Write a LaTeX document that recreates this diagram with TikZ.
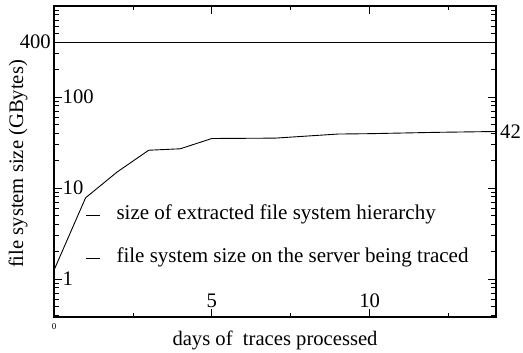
\documentclass[tikz,border=0pt]{standalone}
\usepackage{fontspec}
\setmainfont{Liberation Serif}
\usetikzlibrary{positioning}

\begin{document}
\begin{tikzpicture}[x=1bp, y=1bp, font=\fontsize{20.7}{24}\selectfont,
	frame/.style={line width=1.6bp},
	tick/.style={line width=0.8bp},
	curve/.style={line width=0.9bp},
	lbl/.style={inner sep=0pt},
	keytext/.style={anchor=base west, font=\fontsize{21.1}{24}\selectfont}]
	\useasboundingbox (0,0) rectangle (523,352);
	% data area: x in days, y in log10(GBytes)
	\begin{scope}[shift={(54,73)}, x=31.57bp, y=91bp]
		\coordinate (ll) at (0,-0.418);
		\coordinate (lr) at (14,-0.418);
		\coordinate (ul) at (0,3);
		\coordinate (ur) at (14,3);
		% minor ticks on the log axes
		\foreach \k in {4,...,9}
			\draw[tick] (0,{log10(\k)-1}) -- ++(5bp,0bp) (14,{log10(\k)-1}) -- ++(-5bp,0bp);
		\foreach \d in {0,1,2}
			\foreach \k in {2,...,9}
				\draw[tick] (0,{\d+log10(\k)}) -- ++(5bp,0bp) (14,{\d+log10(\k)}) -- ++(-5bp,0bp);
		\foreach \d in {0,1,2}
			\draw[tick] (0,\d) coordinate (t\d) -- ++(8bp,0bp) (14,\d) -- ++(-8bp,0bp);
		% day ticks
		\foreach \x in {2.5,7.5,12.5}
			\draw[tick] (\x,-0.418) -- ++(0bp,4bp) (\x,3) -- ++(0bp,-4bp);
		\foreach \x in {5,10}
			\draw[tick] (\x,-0.418) coordinate (x\x) -- ++(0bp,8bp) (\x,3) -- ++(0bp,-8bp);
		% server size
		\coordinate (s0) at (0,{log10(400)});
		\coordinate (s1) at (14,{log10(400)});
		\draw[line width=1.3bp] (s0) -- (s1);
		% extracted hierarchy
		\draw[curve] plot coordinates {(0,0.097) (1,0.892) (2,1.176) (3,1.415) (4,1.431)
			(5,1.544) (7,1.548) (9,1.593) (10,1.597) (12,1.611) (14,1.621)};
		\coordinate (e42) at (14,1.621);
		\draw[frame] (ll) rectangle (ur);
	\end{scope}

	\node[lbl, right=8.5bp of t2] (l100) {100};
	\node[lbl, right=8.5bp of t1] (l10) {10};
	\node[lbl, right=8.5bp of t0] (l1) {1};
	\node[lbl, left=3bp of s0] (l400) {400};
	\node[lbl, right=4bp of e42] (l42) {42};
	\node[lbl, above=9bp of x5] (l5) {5};
	\node[lbl, above=9bp of x10] (l10d) {10};
	\node[lbl, below=6bp of ll, font=\fontsize{9}{10}\selectfont] (l0) {0};

	\node[anchor=base] (xlab) at (275,7) {days of~ traces processed};
	\node[anchor=base, rotate=90] (ylab) at (23,188) {file system size (GBytes)};

	% legend
	\coordinate (k1) at (86,137);
	\coordinate (k2) at (86,94);
	\draw[curve] (k1) -- ++(14,0);
	\draw[curve] (k2) -- ++(14,0);
	\node[keytext] (key1) at (113,132.5) {size of extracted file system hierarchy};
	\node[keytext] (key2) at (113,89.5) {file system size on the server being traced};
\end{tikzpicture}
\end{document}
